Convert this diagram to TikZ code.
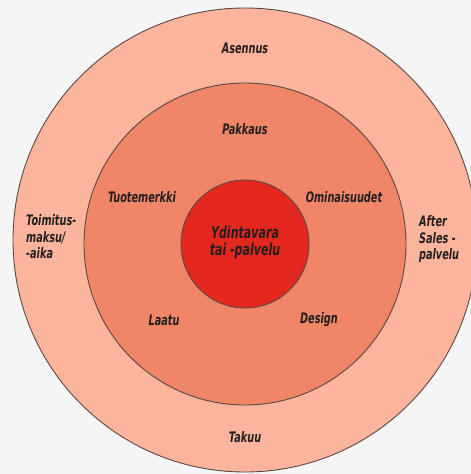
\documentclass[tikz,border=0pt]{standalone}
\usepackage{fontspec}
\setmainfont{DejaVu Sans}
\definecolor{bg}{HTML}{F5F5F5}
\definecolor{ringout}{HTML}{FCB49C}
\definecolor{ringmid}{HTML}{F08667}
\definecolor{core}{HTML}{E4281E}
\definecolor{edge}{HTML}{5A4843}
\definecolor{ink}{HTML}{231F20}
\begin{document}
\begin{tikzpicture}[x=1pt,y=-1pt,
  ring/.style={circle,draw=edge,line width=0.9pt,inner sep=0pt},
  lbl/.style={font=\fontsize{14.5}{16.5}\selectfont\bfseries\itshape,text=ink,xscale=0.67,transform shape,inner sep=0pt},
  lblc/.style={lbl,align=center},
  lbll/.style={lbl,align=left,anchor=west}]
\useasboundingbox (0,0) rectangle (471,474);
\fill[bg] (0,0) rectangle (471,474);
\node[ring,fill=ringout,minimum size=464pt] (outer) at (245,240) {};
\node[ring,fill=ringmid,minimum size=322pt] (middle) at (245,244) {};
\node[ring,fill=core,minimum size=128pt] (inner) at (245,244) {};
\node[lblc,font=\fontsize{16.5}{17}\selectfont\bfseries\itshape] (core) at (245,242) {Ydintavara\\tai -palvelu};
\node[lblc] (asennus) at (245,48) {Asennus};
\node[lblc] (pakkaus) at (245,129) {Pakkaus};
\node[lblc] (tuote) at (142,197) {Tuotemerkki};
\node[lblc] (omin) at (344,197) {Ominaisuudet};
\node[lblc] (laatu) at (164,320) {Laatu};
\node[lblc] (design) at (319,320) {Design};
\node[lblc] (takuu) at (245,437) {Takuu};
\node[lbll] (toimitus) at (26,237) {Toimitus-\\maksu/\\-aika};
\node[lbll] (after) at (419,239) {After\\Sales -\\palvelu};
\end{tikzpicture}
\end{document}
